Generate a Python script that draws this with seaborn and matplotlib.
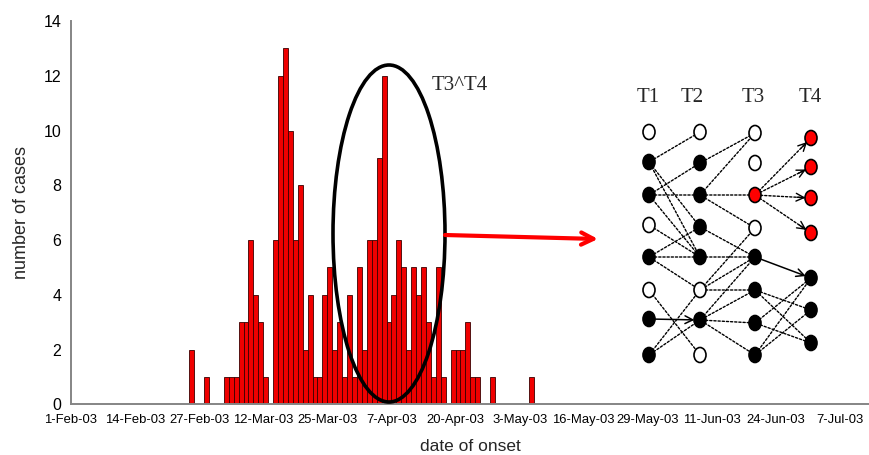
import numpy as np
import pandas as pd
import matplotlib
matplotlib.use("Agg")
import matplotlib.pyplot as plt
import seaborn as sns
from matplotlib.patches import Ellipse

# ---------------- data ----------------
onset_dates = [
    "2003-02-25", "2003-02-28", "2003-03-04", "2003-03-05", "2003-03-06",
    "2003-03-07", "2003-03-08", "2003-03-09", "2003-03-10", "2003-03-11",
    "2003-03-12", "2003-03-14", "2003-03-15", "2003-03-16", "2003-03-17",
    "2003-03-18", "2003-03-19", "2003-03-20", "2003-03-21", "2003-03-22",
    "2003-03-23", "2003-03-24", "2003-03-25", "2003-03-26", "2003-03-27",
    "2003-03-28", "2003-03-29", "2003-03-30", "2003-03-31", "2003-04-01",
    "2003-04-02", "2003-04-03", "2003-04-04", "2003-04-05", "2003-04-06",
    "2003-04-07", "2003-04-08", "2003-04-09", "2003-04-10", "2003-04-11",
    "2003-04-12", "2003-04-13", "2003-04-14", "2003-04-15", "2003-04-16",
    "2003-04-17", "2003-04-19", "2003-04-20", "2003-04-21", "2003-04-22",
    "2003-04-23", "2003-04-24", "2003-04-27", "2003-05-05",
]
cases = [
    2, 1, 1, 1, 1,
    3, 3, 6, 4, 3,
    1, 6, 12, 13, 10,
    6, 8, 2, 4, 1,
    1, 4, 5, 2, 3,
    1, 4, 1, 5, 2,
    6, 6, 9, 12, 3,
    4, 6, 5, 2, 5,
    4, 5, 3, 1, 5,
    1, 2, 2, 2, 3,
    1, 1, 1, 1,
]
axis_start = "2003-02-01"
tick_labels = ["1-Feb-03", "14-Feb-03", "27-Feb-03", "12-Mar-03", "25-Mar-03",
               "7-Apr-03", "20-Apr-03", "3-May-03", "16-May-03", "29-May-03",
               "11-Jun-03", "24-Jun-03", "7-Jul-03"]
y_ticks = [0, 2, 4, 6, 8, 10, 12, 14]

# transmission tree diagram (columns T1..T4): node states per row
tree_labels = ["T1", "T2", "T3", "T4"]
tree_states = [
    ["o", "f", "f", "o", "f", "o", "f", "f"],
    ["o", "f", "f", "f", "f", "o", "f", "o"],
    ["o", "o", "r", "o", "f", "f", "f", "f"],
    ["r", "r", "r", "r", "f", "f", "f"],
]
# edges: (from col, from row, to row, style) -> 'd' dotted, 'da' dotted arrow, 'sa' solid arrow
tree_edges = [
    (0, 1, 0, "d"), (0, 1, 3, "d"), (0, 1, 4, "d"),
    (0, 2, 1, "d"), (0, 2, 2, "d"), (0, 2, 4, "d"),
    (0, 3, 4, "d"),
    (0, 4, 3, "d"), (0, 4, 4, "d"), (0, 4, 5, "d"),
    (0, 5, 7, "d"),
    (0, 6, 6, "sa"),
    (0, 7, 5, "d"), (0, 7, 6, "d"),
    (1, 1, 0, "d"),
    (1, 2, 0, "d"), (1, 2, 2, "d"), (1, 2, 3, "d"),
    (1, 3, 4, "d"),
    (1, 4, 4, "d"),
    (1, 5, 3, "d"), (1, 5, 4, "d"), (1, 5, 5, "d"),
    (1, 6, 4, "d"), (1, 6, 5, "d"), (1, 6, 6, "d"), (1, 6, 7, "d"),
    (2, 2, 0, "da"), (2, 2, 1, "da"), (2, 2, 2, "da"), (2, 2, 3, "da"),
    (2, 4, 4, "sa"),
    (2, 5, 5, "d"), (2, 5, 6, "d"),
    (2, 6, 4, "d"), (2, 6, 6, "d"),
    (2, 7, 4, "d"), (2, 7, 5, "d"),
]

# ---------------- layout helpers (pixels) ----------------
col_x = [649, 700, 755, 811]
col_y = [
    [132, 162, 195, 225, 257, 290, 319, 355],
    [132, 163, 195, 227, 257, 290, 320, 355],
    [133, 163, 195, 228, 257, 290, 323, 355],
    [138, 167, 198, 233, 278, 310, 343],
]
label_x = [648, 692, 753, 810]

# ---------------- figure ----------------
sns.set_style("white")
plt.rcParams["font.family"] = ["Liberation Sans", "DejaVu Sans"]

W, H = 870, 455
fig = plt.figure(figsize=(W / 100, H / 100), dpi=100)
ax = fig.add_axes([71 / W, (H - 404.3) / H, (W - 71) / W, (404.3 - 21) / H])

start = pd.Timestamp(axis_start)
df = pd.DataFrame({"date": pd.to_datetime(onset_dates), "cases": cases})
df["day"] = (df["date"] - start).dt.days.astype(float)

first, last = float(df["day"].min()), float(df["day"].max())
sns.histplot(data=df, x="day", weights="cases", binwidth=1.0,
             binrange=(first, last + 1.0),
             color="#F00000", edgecolor="#3a0000", linewidth=0.6, alpha=1.0, ax=ax)

ax.set_xlim(0, (W - 71) / 4.93)
ax.set_ylim(0, 14)
ax.set_xticks(np.arange(len(tick_labels)) * 13)
ax.set_xticklabels(tick_labels, fontsize=9.4)
ax.set_yticks(y_ticks)
ax.set_yticklabels([str(v) for v in y_ticks], fontsize=11.5)
ax.set_xlabel("date of onset", fontsize=12.5, labelpad=9)
ax.set_ylabel("number of cases", fontsize=13, labelpad=10)
for s in ["top", "right"]:
    ax.spines[s].set_visible(False)
for s in ["left", "bottom"]:
    ax.spines[s].set_color("#858585")
    ax.spines[s].set_linewidth(1.4)
ax.tick_params(axis="both", which="major", direction="out", length=4, width=1.2,
               color="#858585", labelcolor="black", pad=3)
ax.grid(False)

# ---------------- overlay annotations ----------------
ov = fig.add_axes([0, 0, 1, 1], zorder=5)
ov.set_xlim(0, W)
ov.set_ylim(H, 0)
ov.axis("off")
ov.patch.set_alpha(0)

ov.add_patch(Ellipse((389, 233.5), 112, 337, fill=False, lw=2.6, ec="black"))
ov.annotate("", xy=(598, 239), xytext=(445, 235),
            arrowprops=dict(arrowstyle="->", color="#FF0000", lw=3,
                            mutation_scale=22, shrinkA=0, shrinkB=0))
ov.text(432, 86, "T3^T4", fontsize=15, family="Liberation Serif", va="center", ha="left")

for i, lab in enumerate(tree_labels):
    ov.text(label_x[i], 97, lab, fontsize=15, family="Liberation Serif",
            va="center", ha="center")

for c, r0, r1, st in tree_edges:
    p0 = np.array([col_x[c], col_y[c][r0]], dtype=float)
    p1 = np.array([col_x[c + 1], col_y[c + 1][r1]], dtype=float)
    if st == "sa":
        ov.annotate("", xy=p1, xytext=p0,
                    arrowprops=dict(arrowstyle="->", color="black", lw=1.1,
                                    mutation_scale=14, shrinkA=4, shrinkB=4), zorder=6)
    else:
        ov.annotate("", xy=p1, xytext=p0,
                    arrowprops=dict(arrowstyle="-", color="black", lw=1.0,
                                    linestyle=(0, (1.6, 1.4)),
                                    shrinkA=4, shrinkB=4), zorder=6)
        if st == "da":
            d = p1 - p0
            tail = p1 - d / np.hypot(*d) * 14
            ov.annotate("", xy=p1, xytext=tail,
                        arrowprops=dict(arrowstyle="->", color="black", lw=1.0,
                                        mutation_scale=14, shrinkA=0, shrinkB=4,
                                        linestyle="-", alpha=1), zorder=6)

fills = {"o": "white", "f": "black", "r": "#FF0000"}
for c, states in enumerate(tree_states):
    for r, st in enumerate(states):
        ov.add_patch(Ellipse((col_x[c], col_y[c][r]), 12, 15, fc=fills[st],
                             ec="black", lw=1.2, zorder=8))

fig.savefig("out.png", dpi=100)
